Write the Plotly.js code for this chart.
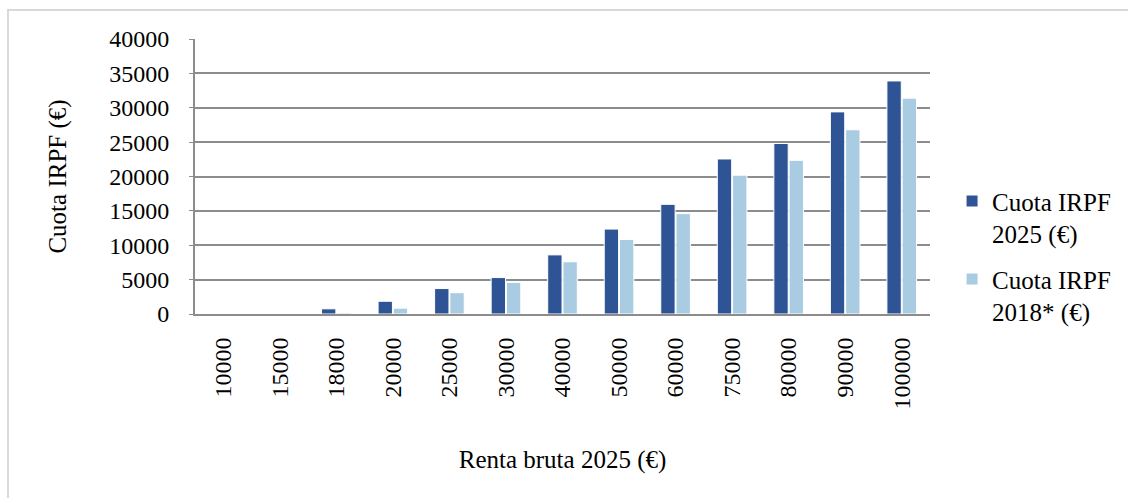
<!DOCTYPE html>
<html><head><meta charset="utf-8">
<script src="https://cdn.plot.ly/plotly-3.0.1.min.js"></script>
<style>
html,body{margin:0;padding:0;background:#fff;overflow:hidden;}
#frame{position:absolute;left:7px;top:9px;width:1200px;height:600px;border-left:2px solid #d9d9d9;border-top:2px solid #d9d9d9;box-sizing:border-box;}
#chart{position:absolute;left:0;top:0;width:1128px;height:498px;}
</style></head>
<body>
<div id="frame"></div>
<div id="chart"></div>
<script>
const categories = ["10000","15000","18000","20000","25000","30000","40000","50000","60000","75000","80000","90000","100000"];
const cuota2025 = [0, 0, 750, 1850, 3700, 5300, 8600, 12350, 15950, 22550, 24800, 29400, 33900];
const cuota2018 = [0, 0, 150, 850, 3100, 4600, 7600, 10850, 14600, 20200, 22350, 26800, 31400];
const seriesNames = ["Cuota IRPF<br>2025 (€)", "Cuota IRPF<br>2018* (€)"];
const yTicks = [0,5000,10000,15000,20000,25000,30000,35000,40000];

const fam = "Liberation Serif, 'Times New Roman', serif";
const tickFont = {family: fam, size: 24, color: "#000"};
const titleFont = {family: fam, size: 25, color: "#000"};
const legendFont = {family: fam, size: 25, color: "#000"};
const traces = [
  {type:"bar", x:categories, y:cuota2025, name:seriesNames[0], legendgroup:"a",
   marker:{color:"#2E5496", line:{color:"#ffffff", width:1}}},
  {type:"bar", x:categories, y:cuota2018, name:seriesNames[1], legendgroup:"b",
   marker:{color:"#A9CCE3", line:{color:"#ffffff", width:1}}}
];
const layout = {
  width:1128, height:498,
  paper_bgcolor:"rgba(0,0,0,0)", plot_bgcolor:"rgba(0,0,0,0)",
  margin:{l:195, r:198, t:39, b:184},
  font: tickFont,
  barmode:"group", bargap:0.46, bargroupgap:0.06,
  showlegend:true,
  legend:{x:1.03, y:0.21, xanchor:"left", yanchor:"middle", font:legendFont,
          traceorder:"grouped", tracegroupgap:10, valign:"top", itemwidth:30, bgcolor:"rgba(0,0,0,0)"},
  xaxis:{type:"category", tickangle:-90, tickfont:tickFont, showgrid:false,
         showline:true, linecolor:"#8c8c8c", linewidth:2, ticks:"", ticklabelstandoff:12,
         title:{text:"Renta bruta 2025 (€)", font:titleFont, standoff:42}},
  yaxis:{range:[0,40000], tickvals:yTicks, ticktext:yTicks.map(String), tickfont:tickFont,
         showgrid:true, gridcolor:"#8c8c8c", gridwidth:2,
         showline:true, linecolor:"#8c8c8c", linewidth:2, ticks:"outside", ticklen:4, tickcolor:"#8c8c8c",
         zeroline:false, ticklabelstandoff:15,
         title:{text:"Cuota IRPF (€)", font:titleFont, standoff:35}}
};
Plotly.newPlot("chart", traces, layout, {displayModeBar:false, staticPlot:true});
</script>
</body></html>
